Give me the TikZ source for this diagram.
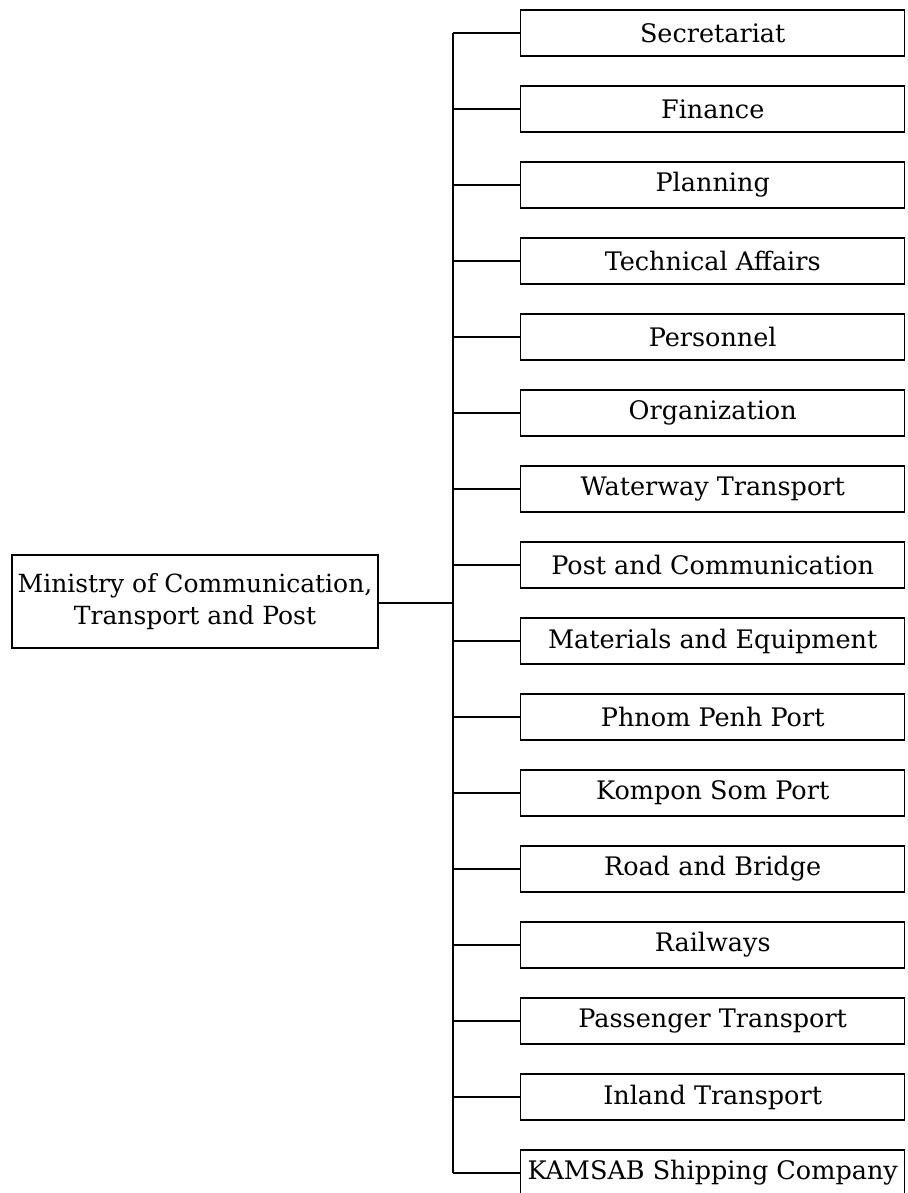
\documentclass[tikz,border=0pt]{standalone}
\usepackage{fontspec}
\setmainfont{DejaVu Serif}
\begin{document}
\begin{tikzpicture}[x=1pt,y=-1pt,
  line width=1.4pt,
  unitbox/.style={draw, line width=1.4pt, minimum width=384pt, minimum height=46pt, anchor=west, inner sep=0pt, font=\fontsize{25.5}{30}\selectfont},
  mainbox/.style={draw, line width=1.4pt, minimum width=366pt, minimum height=93pt, align=center, inner sep=0pt, font=\fontsize{25}{32}\selectfont},
  link/.style={draw, line width=1.2pt}]
\useasboundingbox (0,0) rectangle (907,1193);
\node[mainbox] (m) at (195,601.5) {Ministry of Communication,\\Transport and Post};
\coordinate (j) at (453,603);
\foreach \i/\t in {1/Secretariat,2/Finance,3/Planning,4/Technical Affairs,5/Personnel,6/Organization,7/Waterway Transport,8/Post and Communication,9/Materials and Equipment,10/Phnom Penh Port,11/Kompon Som Port,12/Road and Bridge,13/Railways,14/Passenger Transport,15/Inland Transport,16/KAMSAB Shipping Company}{
  \node[unitbox] (b\i) at (520,{33+76*(\i-1)}) {\t};
  \coordinate (t\i) at (453,{33+76*(\i-1)});
  \draw[link] (t\i) -- (b\i.west);
}
\draw[link] (t1) -- (t16);
\draw[link] (m.east |- j) -- (j);
\end{tikzpicture}
\end{document}
